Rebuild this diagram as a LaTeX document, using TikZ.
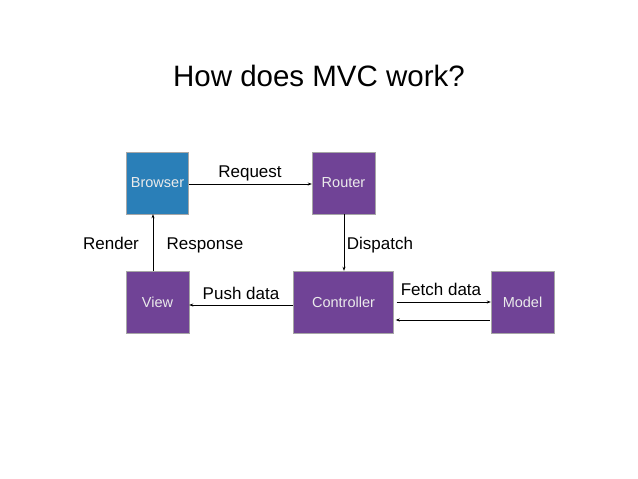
\documentclass[tikz,border=0pt]{standalone}
\usepackage{fontspec}
\setmainfont{Liberation Sans}
\usetikzlibrary{arrows.meta,calc}
\definecolor{bblue}{RGB}{42,127,184}
\definecolor{bpurple}{RGB}{112,67,150}
\begin{document}
\begin{tikzpicture}[x=1pt,y=-1pt,
  box/.style={draw=black!35,line width=0.4pt,minimum height=62pt,text=white!92!black,font=\fontsize{14.5}{16}\selectfont,inner sep=0pt},
  lbl/.style={font=\fontsize{17}{19}\selectfont,inner sep=0pt,anchor=base},
  conn/.style={line width=0.6pt,-{Stealth[length=4pt,width=3pt]}}]
\useasboundingbox[fill=white] (0,0) rectangle (638,479);
\node[font=\fontsize{29.5}{32}\selectfont,anchor=base] (title) at (319,86) {How does MVC work?};
\node[box,fill=bblue,minimum width=62pt] (browser) at (157.5,183) {Browser};
\node[box,fill=bpurple,minimum width=63pt] (router) at (343.5,183) {Router};
\node[box,fill=bpurple,minimum width=63pt] (view) at (157.5,302) {View};
\node[box,fill=bpurple,minimum width=100pt] (controller) at (343.5,302) {Controller};
\node[box,fill=bpurple,minimum width=63pt] (model) at (522.5,302) {Model};
\draw[conn] (browser.east |- 0,184) -- (router.west |- 0,184);
\draw[conn] (view.north -| 153,0) -- (browser.south -| 153,0);
\draw[conn] (router.south -| 344,0) -- (controller.north -| 344,0);
\draw[conn] (controller.west |- 0,305) -- (view.east |- 0,305);
\draw[conn] ($(controller.east |- 0,302)+(3,0)$) -- (model.west |- 0,302);
\draw[conn] ($(model.west |- 0,320)+(-1,0)$) -- ($(controller.east |- 0,320)+(2,0)$);
\node[lbl] (lreq) at (250,177) {Request};
\node[lbl] (lren) at (111,249) {Render};
\node[lbl] (lres) at (205,249) {Response};
\node[lbl] (ldis) at (380,249) {Dispatch};
\node[lbl] (lpush) at (241,299) {Push data};
\node[lbl] (lfetch) at (441,295) {Fetch data};
\end{tikzpicture}
\end{document}
